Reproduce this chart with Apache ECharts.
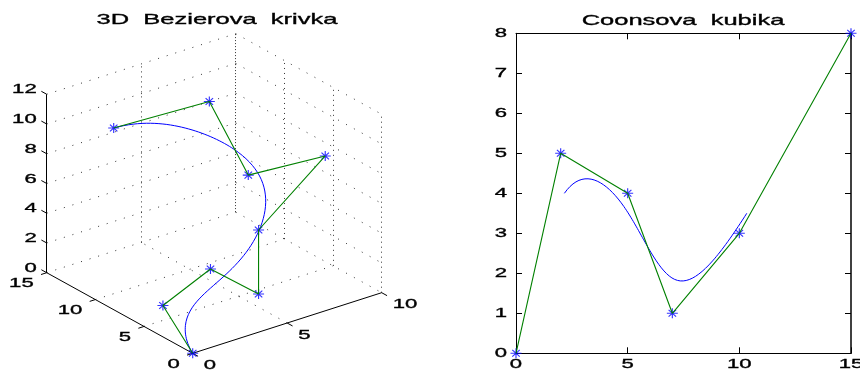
<!DOCTYPE html>
<html><head><meta charset="utf-8">
<script src="https://cdn.jsdelivr.net/npm/echarts@6/dist/echarts.min.js"></script>
<style>html,body{margin:0;padding:0;background:#fff}#c{width:860px;height:370px}</style>
</head><body><div id="c"></div>
<script>
// ---------- DATA ----------
// 3D Bezier curve: control points (A axis 0..10, B axis 0..15, Z axis 0..12)
const bezA = [0, 1, 3, 4, 4, 10, 5, 5, 2];
const bezB = [0, 5, 4, 1, 1, 5.8, 4, 8, 12];
const bezZ = [0, 1, 3, 2, 6.3, 7.1, 8.5, 12, 10];
const ticksA = [0, 5, 10];
const ticksB = [0, 5, 10, 15];
const ticksZ = [0, 2, 4, 6, 8, 10, 12];
// Coons cubic (uniform cubic B-spline): control points
const coonsX = [0, 2, 5, 7, 10, 15];
const coonsY = [0, 5, 4, 1, 3, 8];
const ticks2dX = [0, 5, 10, 15];
const ticks2dY = [0, 1, 2, 3, 4, 5, 6, 7, 8];
const titleLeft = '3D  Bezierova  krivka';
const titleRight = 'Coonsova  kubika';

// ---------- LAYOUT / STYLE ----------
const FONT = 'Liberation Sans';
const SX = 1.7;             // horizontal stretch of the reference's text
const P0 = [192.7, 353.3];  // screen position of the 3D origin
const UA = [18.9, -6.06], UB = [-9.733, -5.373], UZ = [0, -14.87];
const AMAX = 10, BMAX = 15, ZMAX = 12;
function proj(a, b, z) {
  return [P0[0] + UA[0] * a + UB[0] * b + UZ[0] * z,
          P0[1] + UA[1] * a + UB[1] * b + UZ[1] * z];
}

// Bezier curve from the control points (de Casteljau)
const ctrl3d = bezA.map((a, i) => [a, bezB[i], bezZ[i]]);
function bezierAt(t) {
  const p = ctrl3d.map(q => q.slice());
  for (let r = 1; r < p.length; r++)
    for (let i = 0; i < p.length - r; i++)
      for (let k = 0; k < 3; k++) p[i][k] = (1 - t) * p[i][k] + t * p[i + 1][k];
  return p[0];
}
const bezCurve = [];
for (let i = 0; i <= 150; i++) { const q = bezierAt(i / 150); bezCurve.push(proj(q[0], q[1], q[2])); }
const bezPoly = ctrl3d.map(q => proj(q[0], q[1], q[2]));

// Coons cubic from the control points
const coonsCurve = [];
for (let s = 0; s + 3 < coonsX.length; s++) {
  for (let j = 0; j <= 40; j++) {
    if (s > 0 && j === 0) continue;
    const t = j / 40, t2 = t * t, t3 = t2 * t;
    const w = [(1 - t) ** 3 / 6, (3 * t3 - 6 * t2 + 4) / 6, (-3 * t3 + 3 * t2 + 3 * t + 1) / 6, t3 / 6];
    let x = 0, y = 0;
    for (let k = 0; k < 4; k++) { x += w[k] * coonsX[s + k]; y += w[k] * coonsY[s + k]; }
    coonsCurve.push([x, y]);
  }
}
const coonsPoly = coonsX.map((x, i) => [x, coonsY[i]]);

// 3D box: grid lines, axes, ticks
const seg = (p, q) => ({ coords: [p, q] });
const gridVert = [], gridSlant = [], gridBack = [];
ticksA.forEach(a => { if (a > 0 && a < AMAX) gridVert.push(seg(proj(a, BMAX, 0), proj(a, BMAX, ZMAX))); });
ticksB.forEach(b => { if (b < BMAX) gridVert.push(seg(proj(AMAX, b, 0), proj(AMAX, b, ZMAX))); });
gridBack.push(seg(proj(AMAX, BMAX, 0), proj(AMAX, BMAX, ZMAX)));
ticksZ.forEach(z => {
  gridSlant.push(seg(proj(0, BMAX, z), proj(AMAX, BMAX, z)));
  gridSlant.push(seg(proj(AMAX, BMAX, z), proj(AMAX, 0, z)));
});
ticksA.forEach(a => { if (a > 0 && a < AMAX) gridSlant.push(seg(proj(a, 0, 0), proj(a, BMAX, 0))); });
ticksB.forEach(b => { if (b > 0 && b < BMAX) gridSlant.push(seg(proj(0, b, 0), proj(AMAX, b, 0))); });

const axes3d = [
  seg(proj(0, BMAX, 0), proj(0, BMAX, ZMAX)),
  seg(proj(0, 0, 0), proj(0, BMAX, 0)),
  seg(proj(0, 0, 0), proj(AMAX, 0, 0))
];
ticksZ.forEach(z => axes3d.push(seg(proj(0, BMAX, z), proj(0, BMAX + 0.55, z))));
ticksB.forEach(b => axes3d.push(seg(proj(0, b, 0), proj(-0.3, b, 0))));
ticksA.forEach(a => axes3d.push(seg(proj(a, 0, 0), proj(a, -0.55, 0))));

const labels3d = [];
ticksZ.forEach(z => { const p = proj(0, BMAX, z); labels3d.push({ p, dx: -10, dy: -4.5, align: 'right', text: String(z) }); });
ticksB.forEach(b => { const p = proj(0, b, 0); labels3d.push({ p, dx: -13, dy: 11, align: 'right', text: String(b) }); });
ticksA.forEach(a => { const p = proj(a, 0, 0); labels3d.push({ p, dx: 11, dy: 12, align: 'left', text: String(a) }); });

const labels2d = [];
ticks2dX.forEach(x => labels2d.push({ v: [x, 0], dx: 0, dy: 11.5, align: 'center', text: String(x) }));
ticks2dY.forEach(y => labels2d.push({ v: [0, y], dx: -9, dy: 0, align: 'right', text: String(y) }));

const starPath = 'path://M5,0L5,10M0,5L10,5M1.6,1.6L8.4,8.4M1.6,8.4L8.4,1.6';
const starStyle = { color: 'transparent', borderColor: '#0000ff', borderWidth: 1.1 };

function textEl(x, y, text, align, size) {
  return { type: 'text', x, y, scaleX: SX, silent: true,
    style: { text, fill: '#000', stroke: '#000', lineWidth: 0.35, fontFamily: FONT, fontSize: size,
             align, verticalAlign: 'middle' } };
}

const chart = echarts.init(document.getElementById('c'), null, { renderer: 'canvas' });
const hiddenAxis = { type: 'value', show: false, splitLine: { show: false } };
chart.setOption({
  animation: false,
  backgroundColor: '#fff',
  grid: [
    { left: 0, top: 0, width: 860, height: 370 },
    { left: 516, top: 33.3, width: 335, height: 320 }
  ],
  xAxis: [
    Object.assign({ gridIndex: 0, min: 0, max: 860 }, hiddenAxis),
    { type: 'value', gridIndex: 1, min: 0, max: 15, interval: 5, position: 'bottom',
      axisLine: { show: true, onZero: false, lineStyle: { color: '#000', width: 1 } },
      axisTick: { show: true, inside: true, length: 6, lineStyle: { color: '#000' } },
      axisLabel: { show: false }, splitLine: { show: false } },
    { type: 'value', gridIndex: 1, min: 0, max: 15, interval: 5, position: 'top',
      axisLine: { show: true, onZero: false, lineStyle: { color: '#000', width: 1 } },
      axisTick: { show: true, inside: true, length: 6, lineStyle: { color: '#000' } },
      axisLabel: { show: false }, splitLine: { show: false } }
  ],
  yAxis: [
    Object.assign({ gridIndex: 0, min: 0, max: 370, inverse: true }, hiddenAxis),
    { type: 'value', gridIndex: 1, min: 0, max: 8, interval: 1, position: 'left',
      axisLine: { show: true, onZero: false, lineStyle: { color: '#000', width: 1 } },
      axisTick: { show: true, inside: true, length: 6, lineStyle: { color: '#000' } },
      axisLabel: { show: false }, splitLine: { show: false } },
    { type: 'value', gridIndex: 1, min: 0, max: 8, interval: 1, position: 'right',
      axisLine: { show: true, onZero: false, lineStyle: { color: '#000', width: 1.5 } },
      axisTick: { show: true, inside: true, length: 6, lineStyle: { color: '#000' } },
      axisLabel: { show: false }, splitLine: { show: false } }
  ],
  graphic: [
    textEl(217, 19.5, titleLeft, 'center', 15),
    textEl(683, 20.5, titleRight, 'center', 15)
  ],
  series: [
    // ----- 3D panel -----
    { type: 'lines', coordinateSystem: 'cartesian2d', xAxisIndex: 0, yAxisIndex: 0, silent: true,
      data: gridSlant, lineStyle: { color: '#333', width: 1, type: [1, 8], opacity: 1 } },
    { type: 'lines', coordinateSystem: 'cartesian2d', xAxisIndex: 0, yAxisIndex: 0, silent: true,
      data: gridVert, lineStyle: { color: '#333', width: 1, type: [1, 4], opacity: 1 } },
    { type: 'lines', coordinateSystem: 'cartesian2d', xAxisIndex: 0, yAxisIndex: 0, silent: true,
      data: gridBack, lineStyle: { color: '#333', width: 1, type: [1, 2], opacity: 1 } },
    { type: 'lines', coordinateSystem: 'cartesian2d', xAxisIndex: 0, yAxisIndex: 0, silent: true,
      data: axes3d, lineStyle: { color: '#000', width: 1, opacity: 1 } },
    { type: 'line', xAxisIndex: 0, yAxisIndex: 0, data: bezCurve, showSymbol: false, clip: false,
      lineStyle: { color: '#0000ff', width: 1 }, silent: true },
    { type: 'line', xAxisIndex: 0, yAxisIndex: 0, data: bezPoly, showSymbol: false, clip: false,
      lineStyle: { color: '#008000', width: 1.1 }, silent: true },
    { type: 'scatter', xAxisIndex: 0, yAxisIndex: 0, data: bezPoly, symbol: starPath, symbolSize: [11, 10],
      itemStyle: starStyle, clip: false, silent: true },
    { type: 'custom', coordinateSystem: 'cartesian2d', xAxisIndex: 0, yAxisIndex: 0, silent: true, clip: false,
      data: labels3d.map(l => l.p),
      renderItem: (params, api) => {
        const l = labels3d[params.dataIndex];
        const c = api.coord([api.value(0), api.value(1)]);
        return textEl(c[0] + l.dx, c[1] + l.dy, l.text, l.align, 13);
      } },
    // ----- 2D panel -----
    { type: 'line', xAxisIndex: 1, yAxisIndex: 1, data: coonsCurve, showSymbol: false, clip: false,
      lineStyle: { color: '#0000ff', width: 1 }, silent: true },
    { type: 'line', xAxisIndex: 1, yAxisIndex: 1, data: coonsPoly, showSymbol: false, clip: false,
      lineStyle: { color: '#008000', width: 1.1 }, silent: true },
    { type: 'scatter', xAxisIndex: 1, yAxisIndex: 1, data: coonsPoly, symbol: starPath, symbolSize: [11, 10],
      itemStyle: starStyle, clip: false, silent: true },
    { type: 'custom', coordinateSystem: 'cartesian2d', xAxisIndex: 1, yAxisIndex: 1, silent: true, clip: false,
      data: labels2d.map(l => l.v),
      renderItem: (params, api) => {
        const l = labels2d[params.dataIndex];
        const c = api.coord([api.value(0), api.value(1)]);
        return textEl(c[0] + l.dx, c[1] + l.dy, l.text, l.align, 13);
      } }
  ]
});
</script>
</body></html>
